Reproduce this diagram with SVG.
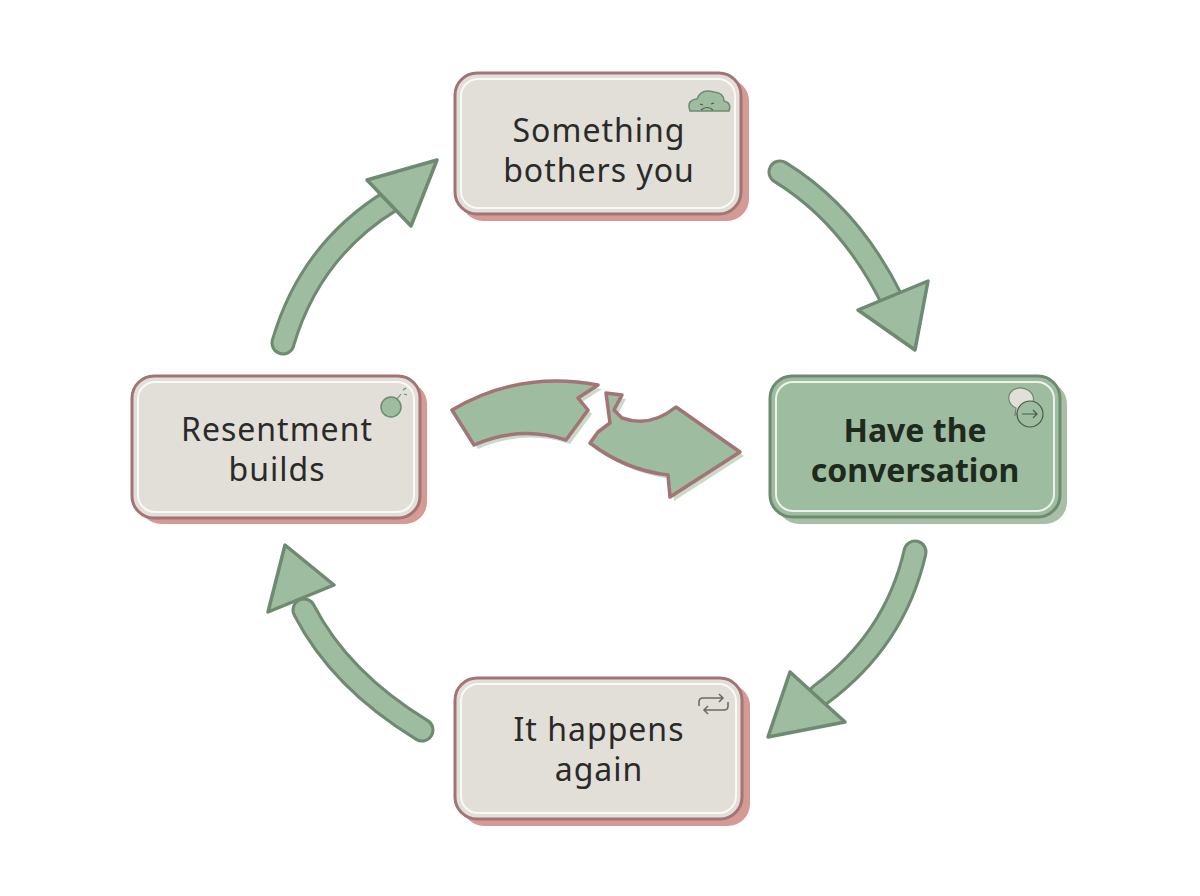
<svg xmlns="http://www.w3.org/2000/svg" width="1200" height="896" viewBox="0 0 1200 896">
<style>
.sh{fill:#d49a93}
.box{fill:#e2dfd9;stroke:#a27476;stroke-width:3}
.inner{fill:none;stroke:#fff;stroke-width:2;opacity:.8}
.t{font-family:"Noto Sans","Open Sans",sans-serif;font-size:32px;letter-spacing:1px;fill:#2a2a28;text-anchor:middle}
.tb{font-family:"Noto Sans","Open Sans",sans-serif;font-size:32px;font-weight:bold;fill:#1f2a1f;text-anchor:middle}
.so{fill:none;stroke:#6e8a71;stroke-width:25;stroke-linecap:round}
.si{fill:none;stroke:#9ebc9f;stroke-width:19;stroke-linecap:round}
.hd{fill:#9ebc9f;stroke:#6e8a71;stroke-width:3.5;stroke-linejoin:round}
.br{fill:#9ebc9f;stroke:#a27476;stroke-width:3.5;stroke-linejoin:round}
.ic{fill:#9ebc9f;stroke:#6e8a71;stroke-width:1.5}
</style>
<rect width="1200" height="896" fill="#fff"/>
<g id="connectors">
<path class="so" d="M780 172 Q850 215 892 300"/><path class="si" d="M780 172 Q850 215 892 300"/>
<polygon class="hd" points="858,310 928,281 915,350"/>
<path class="so" d="M915 552 Q895 640 820 695"/><path class="si" d="M915 552 Q895 640 820 695"/>
<polygon class="hd" points="790,672 845,722 768,737"/>
<path class="so" d="M422 730 Q340 680 304 610"/><path class="si" d="M422 730 Q340 680 304 610"/>
<polygon class="hd" points="268,612 334,585 285,545"/>
<path class="so" d="M283 343 Q310 250 392 200"/><path class="si" d="M283 343 Q310 250 392 200"/>
<polygon class="hd" points="367,180 411,226 437,160"/>
<g transform="translate(4,4)" fill="#a7c0a5" opacity=".6">
<path d="M452 410 Q520 370 598 385 L578 398 L588 410 L566 440 Q520 425 474 445 Z"/>
<path d="M606 393 L622 395 L614 410 L622 418 Q650 428 676 407 L740 452 L670 497 L668 475 Q625 470 590 443 L598 432 L610 423 Z"/>
</g>
<path class="br" d="M452 410 Q520 370 598 385 L578 398 L588 410 L566 440 Q520 425 474 445 Z"/>
<path class="br" d="M606 393 L622 395 L614 410 L622 418 Q650 428 676 407 L740 452 L670 497 L668 475 Q625 470 590 443 L598 432 L610 423 Z"/>
</g>
<g id="n1">
<rect class="sh" x="461" y="79" width="288" height="142" rx="22"/>
<rect class="box" x="455" y="73" width="286" height="141" rx="22"/>
<rect class="inner" x="461" y="79" width="274" height="129" rx="17"/>
<path class="ic" d="M690 111 Q686 100 697 99 Q701 88 714 92 Q724 93 724 101 Q732 103 729 111 Z"/>
<path d="M700 104 l3 1 M711 104 l3 -1 M701 110 q6 -5 12 0" stroke="#4a5a4a" stroke-width="1.2" fill="none"/>
<text class="t" x="599" y="142">Something</text>
<text class="t" x="599" y="182">bothers you</text>
</g>
<g id="n2">
<rect class="sh" x="139" y="382" width="288" height="142" rx="22"/>
<rect class="box" x="132" y="376" width="288" height="142" rx="22"/>
<rect class="inner" x="138" y="382" width="276" height="130" rx="17"/>
<circle class="ic" cx="391" cy="407" r="10"/>
<path d="M397 399 l4 -5 M403 390 l3 -2 M404 394 l3 1" stroke="#6e8a71" stroke-width="1.2"/>
<text class="t" x="277" y="441">Resentment</text>
<text class="t" x="277" y="481">builds</text>
</g>
<g id="n3">
<rect x="777" y="382" width="290" height="142" rx="22" fill="#a7c0a5"/>
<rect x="770" y="376" width="290" height="141" rx="22" fill="#9ebc9f" stroke="#6e8a71" stroke-width="3"/>
<rect class="inner" x="776" y="382" width="278" height="129" rx="17"/>
<path d="M1013 390 a13 11 0 1 1 8 20 l-6 5 l1 -7 a13 11 0 0 1 -3 -18z" fill="#e2dfd9" stroke="#6e8a71" stroke-width="1.2"/>
<circle cx="1030" cy="414" r="13" fill="#9ebc9f" stroke="#4a5a4a" stroke-width="1.2"/>
<path d="M1022 414 h15 m-4 -4 l4 4 l-4 4" stroke="#4a5a4a" stroke-width="1.2" fill="none"/>
<text class="tb" x="915" y="442">Have the</text>
<text class="tb" x="915" y="482">conversation</text>
</g>
<g id="n4">
<rect class="sh" x="462" y="684" width="288" height="142" rx="22"/>
<rect class="box" x="455" y="678" width="287" height="141" rx="22"/>
<rect class="inner" x="461" y="684" width="275" height="129" rx="17"/>
<path d="M699 706 v-4 q0 -4 4 -4 h20 m-4 -4 l4 4 l-4 4 M728 702 v4 q0 4 -4 4 h-20 m4 -4 l-4 4 l4 4" stroke="#6b6b68" stroke-width="1.6" fill="none"/>
<text class="t" x="599" y="741">It happens</text>
<text class="t" x="599" y="781">again</text>
</g>
</svg>
